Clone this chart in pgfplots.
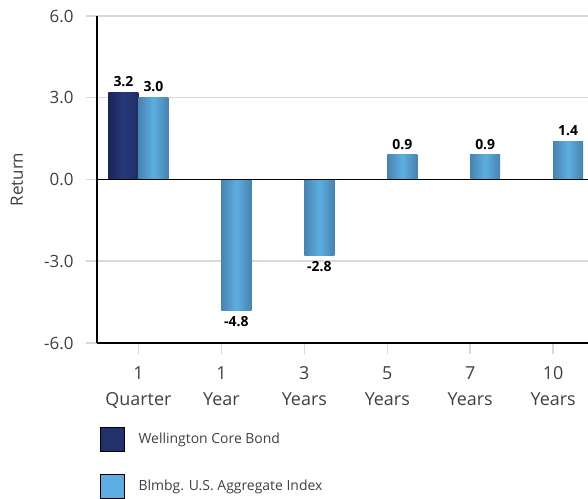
\documentclass[border=0pt]{standalone}
\usepackage{pgfplots}
\pgfplotsset{compat=1.18}
\usepackage{fontspec}
\setmainfont{Open Sans}
\definecolor{navyL}{HTML}{1B2656}
\definecolor{navyM}{HTML}{26397A}
\definecolor{navyR}{HTML}{1F2D62}
\definecolor{blueL}{HTML}{4884B0}
\definecolor{blueM}{HTML}{5DAEE1}
\definecolor{blueR}{HTML}{4683AE}
\definecolor{navyLeg}{HTML}{22316C}
\definecolor{blueLeg}{HTML}{5DADE2}
\definecolor{txt}{HTML}{404040}
\definecolor{gridgray}{HTML}{D9D9D9}
\begin{document}
\begin{tikzpicture}
\begin{axis}[
  scale only axis,
  width=491bp, height=327bp,
  xmin=-0.5, xmax=5.42,
  ymin=-6, ymax=6,
  ybar=0pt, bar width=30bp,
  axis x line*=bottom,
  axis y line*=left,
  x axis line style={draw=none},
  y axis line style={black, line width=1.5bp},
  xtick={0,1,2,3,4,5},
  xticklabels={{1\\Quarter},{1\\Year},{3\\Years},{5\\Years},{7\\Years},{10\\Years}},
  ytick={-6,-3,0,3,6},
  yticklabels={-6.0,-3.0,0.0,3.0,6.0},
  ymajorgrids,
  xmajorgrids=false,
  grid style={draw=gridgray, line width=1.5bp},
  tick align=outside,
  major tick length=11bp,
  tick style={draw=gridgray, line width=1.5bp},
  yticklabel style={font=\fontsize{17}{20}\selectfont, text=txt, xshift=-9bp},
  xticklabel style={font=\fontsize{18}{26}\selectfont, text=txt, align=center, yshift=-9bp},
  ylabel={Return},
  every axis y label/.style={at={(rel axis cs:0,0.5)}, xshift=-80bp, rotate=90, anchor=center, font=\fontsize{17}{20}\selectfont, text=txt},
  nodes near coords={\pgfmathprintnumber[fixed,fixed zerofill,precision=1,assume math mode=true]{\pgfplotspointmeta}},
  nodes near coords align=vertical,
  every node near coord/.append style={font=\fontsize{14}{16}\bfseries, text=black, inner sep=5.5bp},
  legend image code/.code={\fill[#1] (0bp,-12bp) rectangle (24bp,12bp);},
  legend style={draw=none, fill=none, at={(rel axis cs:0,0)}, anchor=north west, xshift=3bp, yshift=-84bp, row sep=22bp, font=\fontsize{14}{16}\selectfont, text=txt, inner sep=0pt, /tikz/every odd column/.style={column sep=12bp}},
  legend cell align=left,
  clip=false,
]
\addplot[draw=none, bar shift=-15bp, left color=navyL, right color=navyR, middle color=navyM, forget plot] coordinates {(0,3.2)};
\addplot[draw=none, bar shift=15bp, left color=blueL, right color=blueR, middle color=blueM, forget plot] coordinates {(0,3.0)};
\addplot[draw=none, bar shift=15bp, left color=blueL, right color=blueR, middle color=blueM, forget plot] coordinates {(1,-4.8)};
\addplot[draw=none, bar shift=15bp, left color=blueL, right color=blueR, middle color=blueM, forget plot] coordinates {(2,-2.8)};
\addplot[draw=none, bar shift=15bp, left color=blueL, right color=blueR, middle color=blueM, forget plot] coordinates {(3,0.9)};
\addplot[draw=none, bar shift=15bp, left color=blueL, right color=blueR, middle color=blueM, forget plot] coordinates {(4,0.9)};
\addplot[draw=none, bar shift=15bp, left color=blueL, right color=blueR, middle color=blueM, forget plot] coordinates {(5,1.4)};
\draw[black, line width=1.5bp] (rel axis cs:0,0.5) -- (rel axis cs:1,0.5);
\draw[black, line width=2bp] (rel axis cs:0,0) -- (rel axis cs:1,0);
\addlegendimage{fill=navyLeg}
\addlegendentry{Wellington Core Bond}
\addlegendimage{fill=blueLeg}
\addlegendentry{Blmbg. U.S. Aggregate Index}
\coordinate (TL) at (rel axis cs:0,1);
\coordinate (BR) at (rel axis cs:1,0);
\end{axis}
\pgfresetboundingbox
\path[use as bounding box] ([xshift=-97bp,yshift=16bp]TL) rectangle ([yshift=-156bp]BR);
\end{tikzpicture}
\end{document}
